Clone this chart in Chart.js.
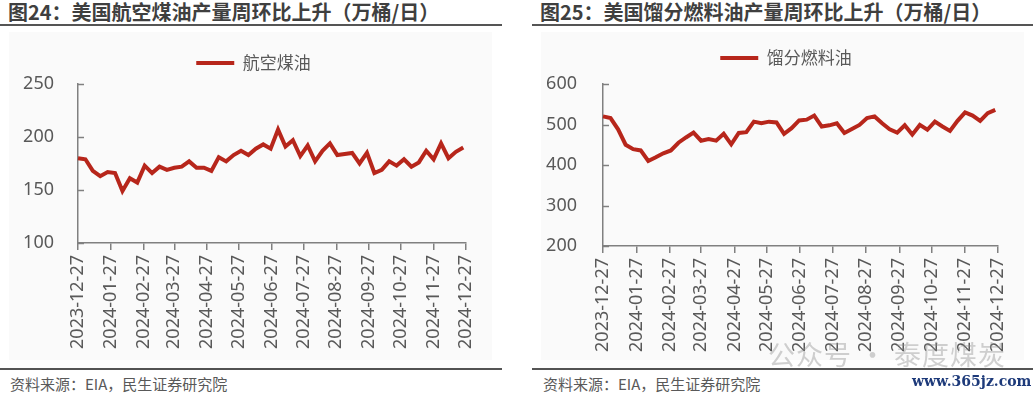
<!DOCTYPE html>
<html>
<head>
<meta charset="utf-8">
<script src="https://cdn.jsdelivr.net/npm/chart.js@4.4.1/dist/chart.umd.min.js"></script>
<style>
  body { margin: 0; width: 1033px; height: 396px; background: #fff; position: relative; overflow: hidden;
         font-family: "Noto Sans CJK SC", sans-serif; }
  .title { position: absolute; top: 0; font-size: 20px; font-weight: bold; color: #3f3f3f; white-space: nowrap; line-height: 24px; }
  .rule { position: absolute; height: 2px; background: #555; }
  .panel { position: absolute; top: 32px; width: 483px; height: 328px; background: #fafafa; }
  .source { position: absolute; top: 375px; font-size: 15px; color: #595959; line-height: 18px; white-space: nowrap; }
  .mark { position: absolute; left: 768px; top: 334px; font-size: 27px; color: rgba(140,140,140,0.4); white-space: nowrap; letter-spacing: 1px; }
  .site { position: absolute; left: 912px; top: 373px; font-family: "DejaVu Serif", serif; font-weight: bold; font-size: 14px; color: #1d3a7a; }
</style>
</head>
<body>
<div class="title" style="left:8px">图24：美国航空煤油产量周环比上升（万桶/日）</div>
<div class="rule" style="left:0;top:24px;width:502px"></div>
<div class="panel" style="left:9px"><canvas id="jet"></canvas></div>
<div class="rule" style="left:0;top:368px;width:502px"></div>
<div class="source" style="left:10px">资料来源：EIA，民生证券研究院</div>

<div class="title" style="left:540px">图25：美国馏分燃料油产量周环比上升（万桶/日）</div>
<div class="rule" style="left:532px;top:24px;width:501px"></div>
<div class="panel" style="left:541px"><canvas id="dist"></canvas></div>
<div class="rule" style="left:532px;top:368px;width:501px"></div>
<div class="source" style="left:543px">资料来源：EIA，民生证券研究院</div>
<div class="mark">公众号 · 泰度煤炭</div>
<div class="site">www.365jz.com</div>

<script>
const weekDates = [
  "2023-12-27", "2024-01-03", "2024-01-10", "2024-01-17", "2024-01-24", "2024-01-31",
  "2024-02-07", "2024-02-14", "2024-02-21", "2024-02-28", "2024-03-06", "2024-03-13",
  "2024-03-20", "2024-03-27", "2024-04-03", "2024-04-10", "2024-04-17", "2024-04-24",
  "2024-05-01", "2024-05-08", "2024-05-15", "2024-05-22", "2024-05-29", "2024-06-05",
  "2024-06-12", "2024-06-19", "2024-06-26", "2024-07-03", "2024-07-10", "2024-07-17",
  "2024-07-24", "2024-07-31", "2024-08-07", "2024-08-14", "2024-08-21", "2024-08-28",
  "2024-09-04", "2024-09-11", "2024-09-18", "2024-09-25", "2024-10-02", "2024-10-09",
  "2024-10-16", "2024-10-23", "2024-10-30", "2024-11-06", "2024-11-13", "2024-11-20",
  "2024-11-27", "2024-12-04", "2024-12-11", "2024-12-18", "2024-12-25"
];

// 航空煤油, 万桶/日
const jetFuel = [
  180, 179, 168, 163, 167, 166, 149, 161, 157, 173,
  166, 172, 169, 171, 172, 177, 171, 171, 168, 181,
  177, 183, 187, 183, 189, 193, 189, 207, 191, 197,
  182, 192, 177, 187, 194, 183, 184, 185, 175, 185,
  166, 169, 177, 173, 179, 172, 176, 187, 179, 194,
  180, 186, 190
];

// 馏分燃料油, 万桶/日
const distillate = [
  520, 516, 488, 450, 439, 436, 410, 419, 429, 436,
  455, 468, 480, 460, 464, 460, 477, 451, 479, 481,
  507, 503, 507, 505, 477, 491, 510, 512, 522, 495,
  498, 503, 479, 489, 499, 516, 520, 503, 488, 480,
  498, 475, 499, 487, 507, 495, 484, 509, 530, 522,
  509, 528, 536
];

const tickDates = [
  "2023-12-27", "2024-01-27", "2024-02-27", "2024-03-27", "2024-04-27", "2024-05-27",
  "2024-06-27", "2024-07-27", "2024-08-27", "2024-09-27", "2024-10-27", "2024-11-27", "2024-12-27"
];

const dayOf = d => (Date.parse(d) - Date.parse(tickDates[0])) / 86400000;
const tickDays = tickDates.map(dayOf);

const RED = "#b7261b";
const GREY = "#595959";
const AXIS = "#808080";
const FONT = '"Noto Sans", "Noto Sans CJK SC", sans-serif';

// y-axis tick marks point inward, like the original
const innerTicks = {
  id: "innerTicks",
  beforeDatasetsDraw(chart) {
    const y = chart.scales.y;
    const ctx = chart.ctx;
    ctx.save();
    ctx.strokeStyle = AXIS;
    ctx.lineWidth = 1.5;
    y.ticks.forEach(t => {
      const py = Math.round(y.getPixelForValue(t.value)) + 0.5;
      ctx.beginPath();
      ctx.moveTo(y.right, py);
      ctx.lineTo(y.right + 6, py);
      ctx.stroke();
    });
    ctx.restore();
  }
};

// nudge the legend sideways without moving the plot
const legendShift = {
  id: "legendShift",
  afterLayout(chart, args, opts) {
    chart.legend.left += opts.dx;
    chart.legend.right += opts.dx;
  }
};

function makeChart(id, label, values, yMin, yMax, yStep, g) {
  return new Chart(document.getElementById(id), {
    type: "line",
    data: {
      datasets: [{
        label: label,
        data: weekDates.map((d, i) => ({ x: dayOf(d), y: values[i] })),
        borderColor: RED,
        backgroundColor: RED,
        borderWidth: 4,
        pointRadius: 0,
        tension: 0,
        clip: false
      }]
    },
    options: {
      responsive: true,
      maintainAspectRatio: false,
      animation: false,
      layout: { padding: { top: g.padTop, right: g.padRight, left: g.padLeft, bottom: 0 } },
      plugins: {
        legend: {
          position: "top",
          labels: {
            usePointStyle: true,
            pointStyle: "line",
            pointStyleWidth: 38,
            padding: g.legendPad,
            color: GREY,
            font: { size: 17, family: '"Noto Sans CJK SC", sans-serif' }
          }
        },
        legendShift: { dx: g.legendDx },
        title: { display: true, text: "", weight: 500, padding: 0, font: { size: g.spacer, lineHeight: 1 } },
        tooltip: { enabled: false }
      },
      scales: {
        x: {
          type: "linear",
          min: 0,
          max: tickDays[tickDays.length - 1],
          afterBuildTicks: s => { s.ticks = tickDays.map(v => ({ value: v })); },
          afterFit: s => { s.height = g.xHeight; },
          ticks: {
            autoSkip: false,
            minRotation: 90,
            maxRotation: 90,
            padding: 5,
            color: GREY,
            font: { size: 18, family: FONT },
            callback: v => tickDates[tickDays.indexOf(v)]
          },
          grid: { drawOnChartArea: false, tickLength: 7, color: AXIS, lineWidth: 1.5 },
          border: { color: AXIS, width: 1.5 }
        },
        y: {
          min: yMin,
          max: yMax,
          afterFit: s => { s.width = g.yWidth; },
          ticks: { stepSize: yStep, padding: g.yPad, color: GREY, font: { size: 18, family: FONT } },
          grid: { display: false, drawTicks: false },
          border: { color: AXIS, width: 1.5 }
        }
      }
    },
    plugins: [innerTicks, legendShift]
  });
}

makeChart("jet", "航空煤油", jetFuel, 100, 250, 50,
  { padTop: 10, legendPad: 12.5, spacer: 2.5, padLeft: 10, yWidth: 59, padRight: 20, xHeight: 117, yPad: 24, legendDx: 8 });
makeChart("dist", "馏分燃料油", distillate, 200, 600, 100,
  { padTop: 6, legendPad: 11.5, spacer: 7.5, padLeft: 4, yWidth: 58, padRight: 19, xHeight: 114, yPad: 26, legendDx: 11 });
</script>
</body>
</html>
